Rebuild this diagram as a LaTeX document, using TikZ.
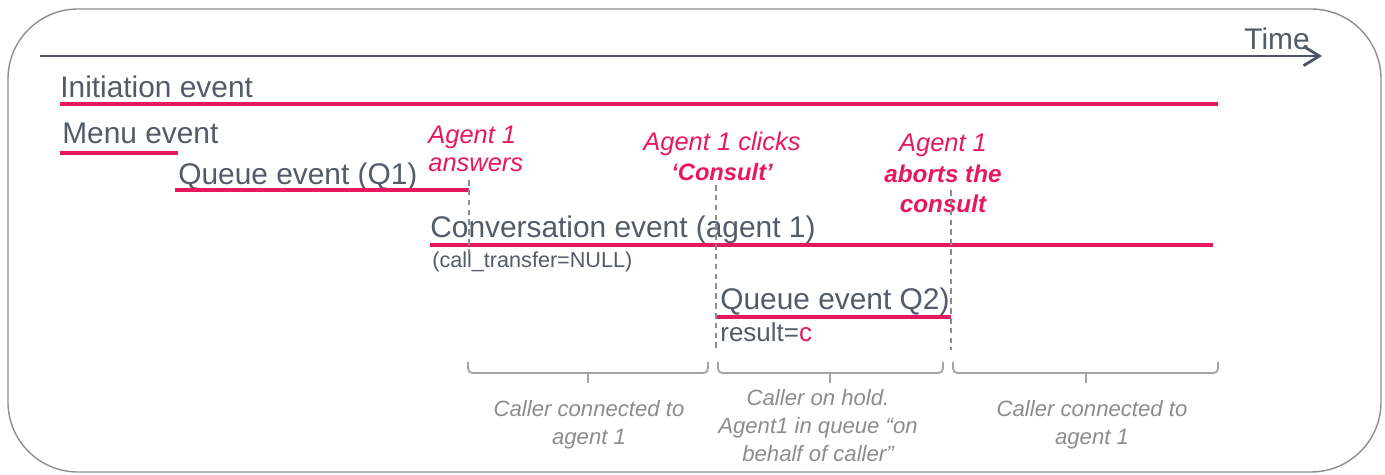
\documentclass[tikz,border=0pt]{standalone}
\usepackage{fontspec}
\setmainfont{Liberation Sans}
\usetikzlibrary{arrows.meta}
\definecolor{evpink}{HTML}{E8185E}
\definecolor{evtext}{HTML}{535A68}
\definecolor{evgray}{HTML}{8C8C8C}
\definecolor{evframe}{HTML}{8E8E8E}
\definecolor{evaxis}{HTML}{4E5462}
\begin{document}
\begin{tikzpicture}[x=0.02cm,y=-0.02cm]

	% Styles
	\tikzstyle{event} = [anchor=base west,inner sep=0,text=evtext,font=\fontsize{17}{20}\selectfont]
	\tikzstyle{note} = [anchor=base west,inner sep=0,text=evtext,font=\fontsize{12.3}{15}\selectfont]
	\tikzstyle{bar} = [draw=evpink,line width=2.2pt]
	\tikzstyle{action} = [anchor=base,inner sep=0,align=center,text=evpink,font=\fontsize{14.5}{17.6}\selectfont\itshape]
	\tikzstyle{moment} = [draw=evgray,line width=0.7pt,dash pattern=on 3.2pt off 2.4pt]
	\tikzstyle{span} = [draw=evgray!80,line width=1pt,rounded corners=2.5pt]
	\tikzstyle{caption} = [anchor=base,inner sep=0,align=center,text=evgray,font=\fontsize{12.6}{16.2}\selectfont\itshape]

	\useasboundingbox (0,0) rectangle (1385,475);

	% Rahmen
	\draw[evframe,line width=0.8pt,rounded corners=1.4cm] (8,9) rectangle (1381,472);

	% Zeitachse
	\coordinate (t0) at (40,56);
	\coordinate (t1) at (1322,56);
	\draw[evaxis,line width=1.6pt,-{Straight Barb[length=9pt,width=11pt]}] (t0) -- (t1);
	\node at (1244,50) [event] (time) {Time};

	% Events
	\node at (60,98) [event] (init) {Initiation event};
	\coordinate (init a) at (60,104);
	\coordinate (init b) at (1218,104);
	\draw[bar] (init a) -- (init b);

	\node at (62,144) [event] (menu) {Menu event};
	\coordinate (menu a) at (60,153);
	\coordinate (menu b) at (178,153);
	\draw[bar] (menu a) -- (menu b);

	\node at (178,185) [event] (q1) {Queue event (Q1)};
	\coordinate (q1 a) at (175,190);
	\coordinate (q1 b) at (469,190);
	\draw[bar] (q1 a) -- (q1 b);

	\node at (430,238) [event] (conv) {Conversation event (agent 1)};
	\node at (432,268) [note] (conv note) {(call\_transfer=NULL)};
	\coordinate (conv a) at (430,245);
	\coordinate (conv b) at (1213,245);
	\draw[bar] (conv a) -- (conv b);

	\node at (720,310) [event] (q2) {Queue event Q2)};
	\node at (720,342) [note,font=\fontsize{14.8}{17}\selectfont] (q2 note) {result=\textcolor{evpink}{c}};
	\coordinate (q2 a) at (716,317);
	\coordinate (q2 b) at (951,317);
	\draw[bar] (q2 a) -- (q2 b);

	% Aktionen Agent
	\node at (428,172) [action,anchor=base west,align=left,font=\fontsize{14.5}{16.2}\selectfont\itshape] (answer) {Agent 1\\answers};
	\node at (722,181) [action] (consult) {Agent 1 clicks\\\bfseries\fontsize{13.5}{17.6}\selectfont ‘Consult’};
	\node at (943,213) [action] (abort) {Agent 1\\\bfseries\fontsize{13.8}{17.6}\selectfont aborts the\\\bfseries\fontsize{13.8}{17.6}\selectfont consult};

	% Zeitpunkte
	\coordinate (answer top) at (469,180);
	\coordinate (answer bot) at (469,257);
	\draw[moment] (answer top) -- (answer bot);
	\coordinate (consult top) at (716,185);
	\coordinate (consult bot) at (716,348);
	\draw[moment] (consult top) -- (consult bot);
	\coordinate (abort top) at (951,190);
	\coordinate (abort bot) at (951,350);
	\draw[moment] (abort top) -- (abort bot);

	% Klammern
	\draw[span] (468,362) |- (588,373) -| (708,362);
	\draw[span] (588,373) -- (588,383);
	\draw[span] (718,362) |- (830,373) -| (943,362);
	\draw[span] (830,373) -- (830,383);
	\draw[span] (953,362) |- (1086,373) -| (1218,362);
	\draw[span] (1086,373) -- (1086,383);

	% Beschriftung Klammern
	\node at (589,445) [caption] (talk1) {Caller connected to\\agent 1};
	\node at (818,462) [caption] (hold) {Caller on hold.\\Agent1 in queue “on\\behalf of caller”};
	\node at (1092,445) [caption] (talk2) {Caller connected to\\agent 1};

\end{tikzpicture}
\end{document}
